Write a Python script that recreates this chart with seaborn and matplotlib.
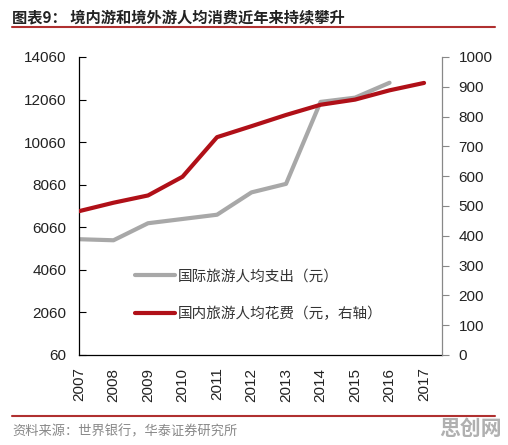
import matplotlib
matplotlib.use("Agg")
import matplotlib.pyplot as plt
import seaborn as sns
import pandas as pd
from matplotlib.lines import Line2D

years_intl = [2007, 2008, 2009, 2010, 2011, 2012, 2013, 2014, 2015, 2016]
intl_spend = [5500, 5450, 6250, 6450, 6650, 7700, 8100, 11950, 12150, 12850]
years_dom = [2007, 2008, 2009, 2010, 2011, 2012, 2013, 2014, 2015, 2016, 2017]
dom_spend = [482.6, 511.0, 535.4, 598.2, 731.0, 767.9, 805.5, 839.7, 857.0, 888.2, 913.0]
left_ticks = [60, 2060, 4060, 6060, 8060, 10060, 12060, 14060]
right_ticks = [0, 100, 200, 300, 400, 500, 600, 700, 800, 900, 1000]
title = "图表9： 境内游和境外游人均消费近年来持续攀升"
label_intl = "国际旅游人均支出（元）"
label_dom = "国内旅游人均花费（元，右轴）"
source = "资料来源：世界银行，华泰证券研究所"
watermark = "思创网"

sns.set_style("white")
plt.rcParams['font.family'] = ['Liberation Sans', 'Noto Sans CJK SC', 'DejaVu Sans']

GRAY = "#A8A8A8"
RED = "#B01018"

fig = plt.figure(figsize=(5.08, 4.45), dpi=100)
ax = fig.add_axes([79/508, 1-355/445, (442-79)/508, (355-57)/445])
ax2 = ax.twinx()

df_i = pd.DataFrame({"year": years_intl, "v": intl_spend})
df_d = pd.DataFrame({"year": years_dom, "v": dom_spend})
sns.lineplot(data=df_i, x="year", y="v", ax=ax, color=GRAY, linewidth=3.0)
sns.lineplot(data=df_d, x="year", y="v", ax=ax2, color=RED, linewidth=3.0)

ax.set_xlim(2007, 2017.52)
ax.set_ylim(60, 14060)
ax2.set_ylim(0, 1000)
ax.set_yticks(left_ticks)
ax2.set_yticks(right_ticks)
ax.set_xticks(years_dom)
ax.set_xticklabels([str(y) for y in years_dom], rotation=90)
for a in (ax, ax2):
    a.set_xlabel("")
    a.set_ylabel("")
    a.grid(False)

ax.tick_params(axis='y', direction='in', length=5, width=0.8, colors='black', labelsize=11, pad=9, labelcolor='#222222')
ax.tick_params(axis='x', direction='in', length=5, width=0.8, colors='black', labelsize=11, pad=9, labelcolor='#222222')
ax2.tick_params(axis='y', direction='out', length=5, width=0.8, colors='#888888', labelsize=11, pad=7, labelcolor='#222222')

for s in ['top']:
    ax.spines[s].set_visible(False)
    ax2.spines[s].set_visible(False)
ax.spines['left'].set_color('black')
ax.spines['bottom'].set_color('black')
ax.spines['left'].set_linewidth(0.9)
ax.spines['bottom'].set_linewidth(0.9)
ax2.spines['left'].set_visible(False)
ax2.spines['bottom'].set_visible(False)
ax2.spines['right'].set_color('#888888')
ax2.spines['right'].set_linewidth(0.9)
ax.spines['right'].set_visible(False)

handles = [Line2D([0], [0], color=GRAY, lw=3.0), Line2D([0], [0], color=RED, lw=3.0)]
leg = fig.legend(handles, [label_intl, label_dom], loc='upper left',
                 bbox_to_anchor=(122/508, 1-256/445), frameon=False,
                 handlelength=2.7, handletextpad=0.25, labelspacing=1.65,
                 prop={'family': ['Noto Sans CJK SC'], 'size': 10.5})
for t in leg.get_texts():
    t.set_color('#333333')

fig.text(12/508, 1-17/445, title, fontsize=11, fontweight='bold',
         family=['Noto Sans CJK SC'], va='center', ha='left', color='#222222')
fig.add_artist(Line2D([12/508, 495/508], [1-27/445, 1-27/445], color='#B03030', lw=1.5))
fig.add_artist(Line2D([12/508, 495/508], [1-416/445, 1-416/445], color='#B03030', lw=1.5))
fig.text(12/508, 1-432/445, source, fontsize=9.5, family=['Noto Sans CJK SC'],
         va='center', ha='left', color='#888888')
fig.text(502/508, 1-428/445, watermark, fontsize=15, fontweight='bold',
         family=['Noto Sans CJK SC'], va='center', ha='right', color='#B0B0B0')

fig.savefig("out.png", dpi=100)
